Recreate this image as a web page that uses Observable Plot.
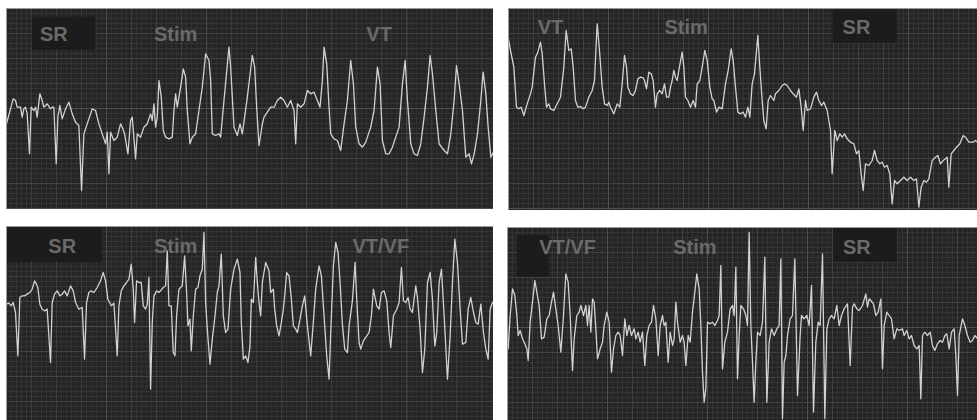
<!DOCTYPE html>
<html>
<head>
<meta charset="utf-8">
<script src="https://cdn.jsdelivr.net/npm/d3@7"></script>
<script src="https://cdn.jsdelivr.net/npm/@observablehq/plot@0.6"></script>
<style>
  html, body { margin: 0; padding: 0; background: #fff; }
  #strips { position: relative; width: 977px; height: 420px; overflow: hidden; background: #fff; }
  #strips > figure, #strips > svg { position: absolute; margin: 0; }
</style>
</head>
<body>
<div id="strips"></div>
<script>
// ECG recordings: four strips, each a list of (time, amplitude) samples.
// Time in ms from the start of the strip, amplitude in µV above strip floor.

// Strip A: sinus rhythm -> stimulation -> ventricular tachycardia
const stripA_t = [18,38,45,50,60,65,70,75,80,87,92,100,105,110,118,125,130,140,150,155,160,167,172,178,185,195,205,215,225,235,243,250,260,275,285,295,305,315,320,325,330,340,350,360,365,372,382,390,395,405,410,420,430,440,450,455,460,465,470,475,482,488,495,505,515,520,525,530,540,548,555,560,568,575,585,595,605,615,625,630,635,645,655,660,670,685,690,700,710,718,725,740,755,762,768,775,785,790,800,810,820,830,840,850,860,870,880,885,890,900,910,920,930,940,950,958,965,970,978,985,990,1000,1010,1020,1030,1040,1050,1058,1065,1075,1085,1095,1110,1120,1130,1138,1145,1155,1165,1175,1185,1195,1205,1213,1220,1230,1240,1250,1260,1270,1280,1288,1295,1305,1315,1330,1340,1350,1360,1367,1375,1385,1395,1405,1412,1420,1430,1440,1447,1455,1462,1470,1478];
const stripA_v = [230,305,300,280,280,250,275,280,260,140,280,270,280,250,320,300,280,290,275,280,280,110,250,285,245,275,295,260,235,225,30,200,230,275,270,230,200,170,205,80,205,180,190,230,220,200,140,240,250,125,200,190,220,230,260,240,290,220,250,360,310,210,190,185,190,270,320,280,340,395,370,270,170,190,200,270,340,440,420,360,200,195,200,190,300,460,400,220,195,230,200,310,435,400,280,165,230,250,265,280,280,300,310,300,280,300,270,170,290,280,290,330,320,325,300,280,360,460,410,280,200,185,180,150,230,300,420,350,220,170,160,175,220,270,400,350,180,140,140,160,190,220,350,420,300,170,140,135,170,250,340,435,380,270,170,150,140,200,300,405,350,270,130,140,110,140,200,300,385,320,220,130,145];

// Strip B: ventricular tachycardia -> stimulation -> sinus rhythm
const stripB_t = [24,30,40,48,55,62,70,80,90,95,105,112,120,125,132,138,145,150,160,170,180,190,197,205,212,218,225,232,240,248,255,265,275,282,290,297,305,312,320,325,330,340,350,358,365,372,378,382,390,398,405,412,420,428,432,438,445,452,458,465,470,478,485,492,498,505,510,515,520,525,530,535,545,550,555,562,570,578,585,590,598,605,613,620,628,635,640,648,655,665,675,683,692,698,705,712,720,728,735,742,748,755,762,772,778,785,790,797,803,810,820,825,835,845,852,860,870,878,888,895,902,908,915,920,930,940,948,955,963,970,980,990,995,1003,1010,1018,1025,1032,1040,1050,1060,1068,1075,1082,1088,1095,1105,1115,1122,1130,1138,1145,1152,1160,1168,1175,1182,1190,1200,1210,1220,1230,1240,1248,1255,1262,1270,1278,1285,1295,1305,1312,1320,1328,1335,1340,1345,1352,1360,1368,1378,1388,1395,1405,1418,1425,1431];
const stripB_v = [485,450,400,280,275,280,255,290,320,340,430,445,475,440,350,280,290,275,270,290,310,400,510,450,455,400,300,280,282,275,280,310,330,360,530,450,340,290,285,295,280,260,290,280,350,435,400,340,320,315,330,365,370,368,360,335,385,380,360,280,320,330,320,350,310,310,340,360,390,370,360,390,445,400,310,300,280,300,280,350,360,400,450,420,340,305,300,265,280,275,350,390,455,420,340,265,260,265,250,280,250,350,380,495,400,300,240,215,300,315,300,320,330,345,350,345,330,320,310,335,280,210,300,270,275,310,325,300,285,295,270,210,80,210,180,200,190,200,185,175,170,140,150,80,30,110,105,120,150,120,110,115,100,105,80,-10,60,50,60,70,60,70,60,65,-20,40,60,55,65,120,130,135,110,120,125,130,40,140,150,160,170,195,190,175,175,180,175];

// Strip C: sinus rhythm -> stimulation -> VT/VF
const stripC_t = [18,25,32,38,45,52,58,65,72,80,88,95,102,108,112,118,125,132,140,150,155,162,170,178,185,192,200,210,218,225,235,245,252,258,265,272,280,290,300,308,315,322,332,340,350,355,362,370,378,385,392,398,402,408,415,422,428,435,440,445,450,455,460,468,475,482,488,495,500,505,512,518,523,528,535,545,552,558,562,568,572,578,585,592,598,605,610,615,620,628,635,642,650,655,662,668,675,682,690,700,710,718,722,728,735,742,748,752,758,765,770,775,780,785,795,805,810,818,822,828,835,842,848,852,858,865,872,878,885,890,898,905,912,920,930,937,945,955,962,970,978,985,990,998,1005,1012,1018,1025,1032,1040,1045,1055,1063,1068,1075,1080,1088,1098,1105,1112,1118,1122,1128,1135,1142,1150,1158,1165,1170,1178,1188,1195,1202,1208,1215,1222,1228,1235,1245,1250,1258,1265,1272,1280,1288,1295,1302,1308,1315,1322,1330,1340,1348,1355,1362,1370,1378,1385,1395,1402,1410,1418,1425,1432,1440,1448,1455,1462,1468,1475];
const stripC_v = [335,338,330,340,310,180,355,360,360,365,370,380,405,395,385,335,320,315,320,160,340,365,375,360,365,375,360,390,375,340,320,325,170,340,370,375,370,385,405,430,405,350,330,338,180,330,375,390,400,410,455,380,280,405,400,400,330,320,335,415,80,280,360,375,370,378,385,390,495,330,330,190,180,300,380,390,480,370,270,290,195,300,380,385,420,440,550,340,260,155,230,290,370,390,485,300,250,260,380,440,470,430,280,170,180,160,210,350,340,475,400,340,300,400,460,435,370,380,320,270,240,280,320,360,430,420,350,270,260,250,290,330,360,270,180,270,380,450,420,300,180,110,250,450,520,490,400,275,200,190,270,345,460,350,220,200,225,240,250,300,380,360,330,320,370,375,345,250,205,300,320,340,445,345,340,355,320,310,390,355,260,130,200,400,430,350,210,250,400,440,300,110,240,400,530,460,320,215,220,320,355,310,280,275,335,250,200,170,320,340];

// Strip D: VT/VF -> stimulation -> sinus rhythm
const stripD_t = [22,28,35,42,48,52,58,65,72,78,82,88,95,102,108,115,122,130,138,145,152,158,165,172,180,188,195,202,208,215,220,228,235,240,248,255,260,265,270,275,280,285,290,298,305,310,318,325,332,338,345,352,358,365,372,378,385,392,400,405,412,418,425,432,438,445,452,458,465,472,478,485,490,495,502,508,515,520,525,530,538,545,550,555,562,568,575,582,588,595,600,605,610,615,620,628,635,642,650,655,660,665,672,680,688,695,700,705,710,715,720,728,735,740,745,750,755,760,765,770,778,785,792,798,805,812,820,828,835,840,845,850,855,860,868,875,882,890,898,902,910,918,925,932,938,945,952,958,965,972,978,985,992,1000,1008,1015,1022,1030,1040,1048,1055,1060,1068,1075,1085,1095,1100,1105,1110,1118,1125,1132,1140,1145,1150,1158,1165,1172,1180,1188,1195,1205,1210,1218,1225,1232,1240,1248,1255,1260,1265,1272,1280,1288,1295,1302,1310,1318,1325,1332,1338,1345,1352,1360,1365,1370,1375,1385,1392,1400,1408,1415,1422,1431];
const stripD_v = [200,300,380,360,300,240,255,230,215,200,165,280,340,405,370,330,230,235,290,300,340,370,320,270,190,300,425,400,300,135,230,300,310,330,300,330,270,330,250,350,340,260,170,200,220,270,310,280,130,200,240,250,240,180,290,240,270,240,260,230,250,220,250,150,240,270,280,330,290,180,270,300,270,280,160,250,210,230,340,280,220,240,220,150,240,220,310,370,425,380,270,130,40,80,280,275,280,270,285,300,450,140,220,250,320,330,300,445,110,240,330,320,300,270,550,270,160,40,160,250,240,280,475,40,220,260,240,260,270,470,-10,160,180,240,290,300,470,60,240,300,290,300,270,390,10,220,280,270,485,-10,260,290,300,290,330,270,300,320,335,150,325,335,320,315,330,365,325,350,345,335,300,310,350,140,270,310,300,290,230,260,255,260,240,255,230,240,210,200,210,50,240,250,240,250,210,195,215,225,220,240,245,200,250,260,180,60,240,290,270,240,220,225,240,230];

// Rhythm annotations per strip
const stripA_labels = ["SR", "Stim", "VT"];
const stripB_labels = ["VT", "Stim", "SR"];
const stripC_labels = ["SR", "Stim", "VT/VF"];
const stripD_labels = ["VT/VF", "Stim", "SR"];
const stripA_labelTimes = [160, 525, 1135];
const stripB_labelTimes = [150, 557, 1068];
const stripC_labelTimes = [185, 525, 1140];
const stripD_labelTimes = [200, 582, 1068];

const strips = [
  {t: stripA_t, v: stripA_v, labels: stripA_labels, times: stripA_labelTimes,
   left: 6, top: 8, width: 487, height: 201, x: [18, 1478], y: [-27, 576], labelV: 497,
   boxes: [{x1: 95, x2: 285, y1: 450, y2: 550}]},
  {t: stripB_t, v: stripB_v, labels: stripB_labels, times: stripB_labelTimes,
   left: 508, top: 8, width: 469, height: 202, x: [24, 1431], y: [-30, 576], labelV: 518,
   boxes: [{x1: 998, x2: 1190, y1: 472, y2: 572}]},
  {t: stripC_t, v: stripC_v, labels: stripC_labels, times: stripC_labelTimes,
   left: 6, top: 226, width: 487, height: 194, x: [18, 1478], y: [-14, 568], labelV: 507,
   boxes: [{x1: 18, x2: 305, y1: 460, y2: 568}]},
  {t: stripD_t, v: stripD_v, labels: stripD_labels, times: stripD_labelTimes,
   left: 507, top: 227, width: 470, height: 193, x: [20, 1430], y: [-15, 564], labelV: 505,
   boxes: [{x1: 50, x2: 145, y1: 415, y2: 540}, {x1: 998, x2: 1190, y1: 460, y2: 562}]}
];

const host = document.getElementById("strips");

for (const s of strips) {
  const samples = s.t.map((t, i) => ({t, v: s.v[i]}));
  const notes = s.labels.map((text, i) => ({text, t: s.times[i], v: s.labelV}));

  // ECG paper: 1 small square = 15 ms / 15 µV, every 5th line heavier
  const step = 15;
  const vx = d3.range(0, Math.ceil((s.x[1] - s.x[0]) / step) + 1).map(k => ({p: s.x[0] + k * step, k}));
  const hy = d3.range(0, Math.ceil((s.y[1] - s.y[0]) / step) + 1).map(k => ({p: s.y[1] - k * step, k}));
  const tone = k => k % 20 === 0 ? "#4e4e4e" : "#414141";

  const chart = Plot.plot({
    width: s.width,
    height: s.height,
    margin: 0,
    x: {domain: s.x, axis: null},
    y: {domain: s.y, axis: null},
    style: {background: "#252525", overflow: "hidden"},
    marks: [
      Plot.ruleX(vx.filter(d => d.k % 5 !== 0), {x: "p", stroke: "#333333", strokeWidth: 1}),
      Plot.ruleY(hy.filter(d => d.k % 5 !== 0), {y: "p", stroke: "#333333", strokeWidth: 1}),
      Plot.ruleX(vx.filter(d => d.k % 5 === 0), {x: "p", stroke: d => tone(d.k), strokeWidth: 1}),
      Plot.ruleY(hy.filter(d => d.k % 5 === 0), {y: "p", stroke: d => tone(d.k), strokeWidth: 1}),
      Plot.rect(s.boxes, {x1: "x1", x2: "x2", y1: "y1", y2: "y2", fill: "#1c1c1c"}),
      Plot.text(notes, {x: "t", y: "v", text: "text", fill: "#6a6a6a", fontSize: 20,
        fontWeight: "bold", fontFamily: "Liberation Sans, Arial, sans-serif"}),
      Plot.line(samples, {x: "t", y: "v", stroke: "#d2d2d2", strokeWidth: 1.3, curve: "linear"}),
      Plot.frame({stroke: "#9a9a9a", strokeWidth: 1})
    ]
  });
  chart.style.left = s.left + "px";
  chart.style.top = s.top + "px";
  chart.style.position = "absolute";
  host.appendChild(chart);
}
</script>
</body>
</html>
